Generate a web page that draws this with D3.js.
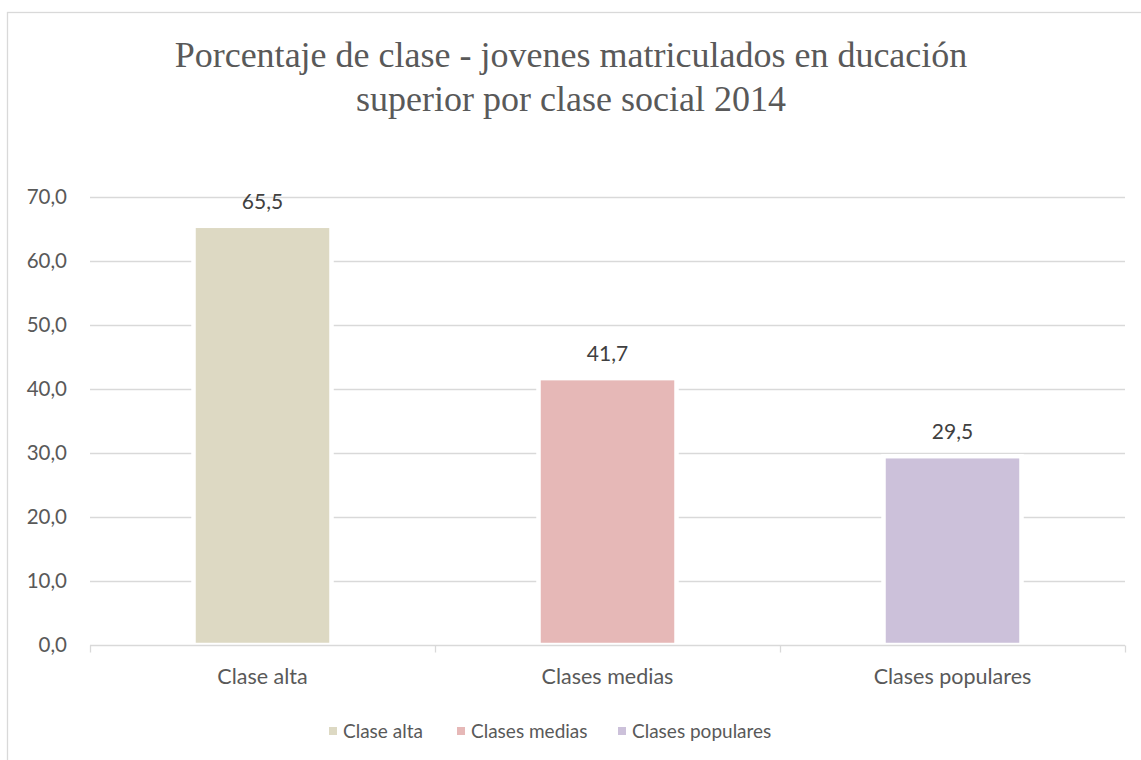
<!DOCTYPE html>
<html lang="es">

<head>
    <meta charset="UTF-8">
    <title>Porcentaje de clase - jovenes matriculados</title>
    <script src="https://cdn.jsdelivr.net/npm/d3@7"></script>
    <style>
        html,
        body {
            margin: 0;
            padding: 0;
            background: #fff;
        }

        svg text {
            fill: #595959;
        }
    </style>
</head>

<body>
    <div id="chart"></div>
    <script>
        // Data
        const categories = ['Clase alta', 'Clases medias', 'Clases populares'];
        const values = [65.5, 41.7, 29.5];
        const colors = ['#DDD9C3', '#E6B8B7', '#CCC1DA'];
        const yTicks = [0, 10, 20, 30, 40, 50, 60, 70];
        const titleLines = ['Porcentaje de clase - jovenes matriculados en ducación', 'superior por clase social 2014'];

        const width = 1141, height = 760;
        const plot = { left: 90, right: 1125, top: 197, bottom: 645 };
        const sans = 'Lato, "Open Sans", sans-serif';

        const svg = d3.select('#chart').append('svg')
            .attr('width', width)
            .attr('height', height);

        // outer chart border (goes off the picture at right and bottom)
        svg.append('rect')
            .attr('x', 7.5).attr('y', 12.5)
            .attr('width', width + 20).attr('height', height + 20)
            .attr('fill', 'none')
            .attr('stroke', '#D9D9D9')
            .attr('stroke-width', 1.3);

        // title
        svg.append('g').selectAll('text')
            .data(titleLines)
            .join('text')
            .attr('x', 571)
            .attr('y', (d, i) => 67 + i * 44)
            .attr('text-anchor', 'middle')
            .style('font-family', '"Liberation Serif", "Times New Roman", serif')
            .style('font-size', '36px')
            .text(d => d);

        const x = d3.scaleBand()
            .domain(categories)
            .range([plot.left, plot.right])
            .paddingInner(0.6)
            .paddingOuter(0.3);

        const y = d3.scaleLinear()
            .domain([0, 70])
            .range([plot.bottom, plot.top]);

        // gridlines
        svg.append('g')
            .selectAll('line')
            .data(yTicks.filter(d => d > 0))
            .join('line')
            .attr('x1', plot.left).attr('x2', plot.right)
            .attr('y1', d => Math.round(y(d)) + 0.5)
            .attr('y2', d => Math.round(y(d)) + 0.5)
            .attr('stroke', '#D9D9D9')
            .attr('stroke-width', 1.3);

        // y labels
        svg.append('g')
            .selectAll('text')
            .data(yTicks)
            .join('text')
            .attr('x', 67)
            .attr('y', d => y(d))
            .attr('dy', '0.35em')
            .attr('text-anchor', 'end')
            .style('font-family', sans)
            .style('font-size', '20.5px')
            .text(d => d3.format('.1f')(d).replace('.', ','));

        // bars (white outline cuts the gridlines like the original)
        svg.append('g')
            .selectAll('rect')
            .data(values)
            .join('rect')
            .attr('x', (d, i) => x(categories[i]))
            .attr('y', d => y(d))
            .attr('width', x.bandwidth())
            .attr('height', d => y(0) - y(d))
            .attr('fill', (d, i) => colors[i])
            .attr('stroke', '#fff')
            .attr('stroke-width', 4.5);

        // x axis line and ticks
        const xAxis = svg.append('g').attr('transform', `translate(0,${plot.bottom + 0.5})`);
        xAxis.append('line')
            .attr('x1', plot.left).attr('x2', plot.right)
            .attr('stroke', '#D9D9D9').attr('stroke-width', 1.3);
        const boundaries = categories.map(c => x(c) - x.step() * 0.3).concat([plot.right]);
        xAxis.selectAll('.tick')
            .data(boundaries)
            .join('line')
            .attr('class', 'tick')
            .attr('x1', d => Math.round(d) + 0.5).attr('x2', d => Math.round(d) + 0.5)
            .attr('y1', 0).attr('y2', 7)
            .attr('stroke', '#D9D9D9').attr('stroke-width', 1.3);

        // category labels
        svg.append('g')
            .selectAll('text')
            .data(categories)
            .join('text')
            .attr('x', d => x(d) + x.bandwidth() / 2)
            .attr('y', 684)
            .attr('text-anchor', 'middle')
            .style('font-family', sans)
            .style('font-size', '21.5px')
            .text(d => d);

        // data labels
        svg.append('g')
            .selectAll('text')
            .data(values)
            .join('text')
            .attr('x', (d, i) => x(categories[i]) + x.bandwidth() / 2)
            .attr('y', d => y(d) - 17)
            .attr('text-anchor', 'middle')
            .style('font-family', sans)
            .style('font-size', '21px')
            .style('fill', '#404040')
            .text(d => d3.format('.1f')(d).replace('.', ','));

        // legend
        const legendX = [329, 457, 618];
        const legend = svg.append('g')
            .selectAll('g')
            .data(categories)
            .join('g')
            .attr('transform', (d, i) => `translate(${legendX[i]},731)`);
        legend.append('rect')
            .attr('x', 0).attr('y', -4)
            .attr('width', 8).attr('height', 8)
            .attr('fill', (d, i) => colors[i]);
        legend.append('text')
            .attr('x', 14)
            .attr('dy', '0.35em')
            .style('font-family', sans)
            .style('font-size', '19px')
            .text(d => d);
    </script>
</body>

</html>
